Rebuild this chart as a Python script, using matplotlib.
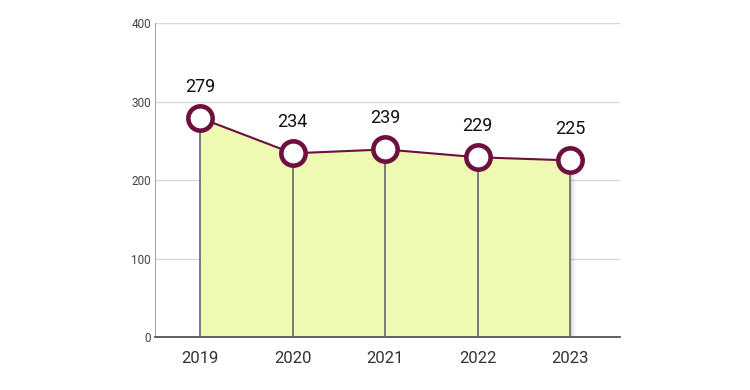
import numpy as np
import matplotlib.pyplot as plt

years = ["2019", "2020", "2021", "2022", "2023"]
values = [279, 234, 239, 229, 225]
yticks = [0, 100, 200, 300, 400]

plt.rcParams['font.family'] = ['Roboto', 'DejaVu Sans']

fig = plt.figure(figsize=(7.5, 3.9), dpi=100)
ax = fig.add_axes([0.2067, 0.1359, 0.62, 0.805])

x = np.arange(len(years))

# soft shadow under the filled area
for i, a in enumerate([0.05, 0.04, 0.03, 0.02, 0.015]):
    d = 0.012 * (i + 1)
    ax.fill_between(x + d, 0, values, color='black', alpha=a, lw=0, zorder=1)

ax.fill_between(x, 0, values, color='#eefab2', lw=0, zorder=2)
ax.vlines(x, 0, values, color='#707070', lw=1.3, zorder=3)
ax.plot(x, values, color='#6d0f3f', lw=1.5, zorder=4)
ax.plot(x, values, 'o', ms=17.5, mfc='white', mec='#6d0f3f', mew=3.3, zorder=5)

for xi, v in zip(x, values):
    ax.annotate(str(v), (xi, v), xytext=(0, 16), textcoords='offset points',
                ha='center', va='bottom', fontsize=13, color='#111111')

ax.set_xlim(-0.49, 4.54)
ax.set_ylim(0, 400)
ax.set_xticks(x)
ax.set_xticklabels(years, fontsize=12, color='#333333')
ax.set_yticks(yticks)
ax.set_yticklabels([str(t) for t in yticks], fontsize=8.5, color='#444444')
ax.tick_params(axis='both', length=0)
ax.tick_params(axis='x', pad=10)
ax.tick_params(axis='y', pad=3)

ax.grid(axis='y', color='#d8d8d8', lw=1)
ax.set_axisbelow(True)
for s in ['top', 'right']:
    ax.spines[s].set_visible(False)
ax.spines['left'].set_color('#aaaaaa')
ax.spines['bottom'].set_color('#555555')
ax.spines['bottom'].set_linewidth(1.3)

plt.savefig('out.png', dpi=100)
